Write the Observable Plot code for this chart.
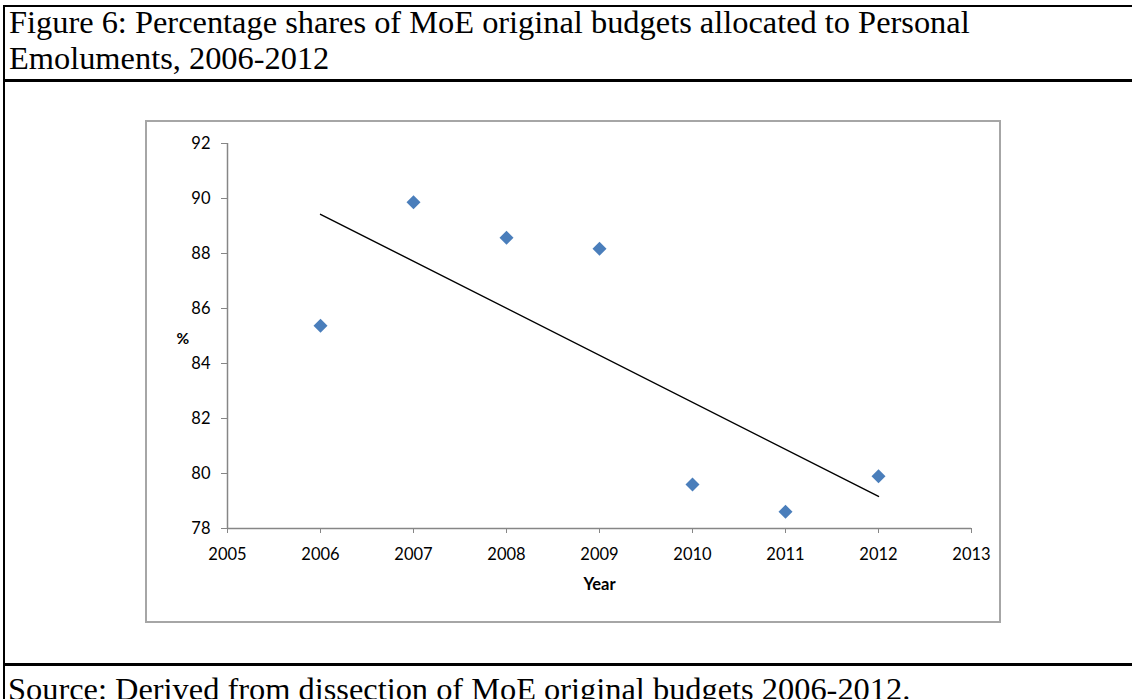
<!DOCTYPE html>
<html>
<head>
<meta charset="utf-8">
<script src="https://cdn.jsdelivr.net/npm/d3@7"></script>
<script src="https://cdn.jsdelivr.net/npm/@observablehq/plot@0.6"></script>
<style>
  html, body { margin: 0; padding: 0; background: #fff; }
  body { width: 1132px; height: 699px; position: relative; overflow: hidden; }
  .line { position: absolute; background: #000; }
  .serif { position: absolute; font-family: "Liberation Serif", "Times New Roman", serif; font-size: 32.4px; line-height: 36px; color: #000; white-space: nowrap; }
  #chartbox { position: absolute; left: 145px; top: 120px; width: 852px; height: 499px; border: 2px solid #a6a6a6; pointer-events: none; }
  #chart { position: absolute; left: 145px; top: 120px; width: 856px; height: 503px; }
  #chart svg { display: block; }
</style>
</head>
<body>
<div class="line" style="left:3px; top:5px; width:2px; height:700px;"></div>
<div class="line" style="left:3px; top:5px; width:1132px; height:2px;"></div>
<div class="line" style="left:3px; top:79px; width:1132px; height:3px;"></div>
<div class="line" style="left:3px; top:663px; width:1132px; height:3px;"></div>
<div class="serif" style="left:9px; top:4px;">Figure 6: Percentage shares of MoE original budgets allocated to Personal<br>Emoluments, 2006-2012</div>
<div id="chart"></div>
<div id="chartbox"></div>
<div class="serif" style="left:8px; top:671px;">Source: Derived from dissection of MoE original budgets 2006-2012.</div>
<script>
// Data
const years = [2006, 2007, 2008, 2009, 2010, 2011, 2012];
const shares = [85.37, 89.86, 88.57, 88.17, 79.6, 78.61, 79.9];
const xTicks = [2005, 2006, 2007, 2008, 2009, 2010, 2011, 2012, 2013];
const yTicks = [78, 80, 82, 84, 86, 88, 90, 92];
const yLabel = "%";
const xLabel = "Year";

const data = years.map((year, i) => ({year, share: shares[i]}));

const plot = Plot.plot({
  width: 856,
  height: 503,
  marginLeft: 82,
  marginRight: 30,
  marginTop: 23,
  marginBottom: 95,
  style: {fontFamily: "Lato, 'Open Sans', sans-serif", fontSize: "16.5px", background: "none", color: "#000"},
  x: {domain: [2005, 2013], axis: null},
  y: {domain: [78, 92], axis: null},
  marks: [
    Plot.ruleX([2005], {stroke: "#868686", strokeWidth: 1.5}),
    Plot.ruleY([78], {stroke: "#868686", strokeWidth: 1.5}),
    Plot.axisX(xTicks, {tickFormat: "d", tickSize: 5, tickPadding: 15, stroke: "#868686", fill: "#000", label: null, fontSize: 16.5}),
    Plot.axisY(yTicks, {tickSize: 6, tickPadding: 11, stroke: "#868686", fill: "#000", label: null, fontSize: 16.5}),
    Plot.linearRegressionY(data, {x: "year", y: "share", stroke: "#000", strokeWidth: 1.4, ci: 0}),
    Plot.dot(data, {x: "year", y: "share", symbol: "diamond2", r: 6.3, fill: "#4a7ebb", stroke: "none"}),
    Plot.text([yLabel], {text: d => d, frameAnchor: "left", dx: -51, dy: 3, fontWeight: "bold", fontSize: 15.5, fill: "#000"}),
    Plot.text([xLabel], {text: d => d, frameAnchor: "bottom", dy: 61, fontWeight: "bold", fontSize: 16.5, fill: "#000"})
  ]
});
document.getElementById("chart").appendChild(plot);
</script>
</body>
</html>
